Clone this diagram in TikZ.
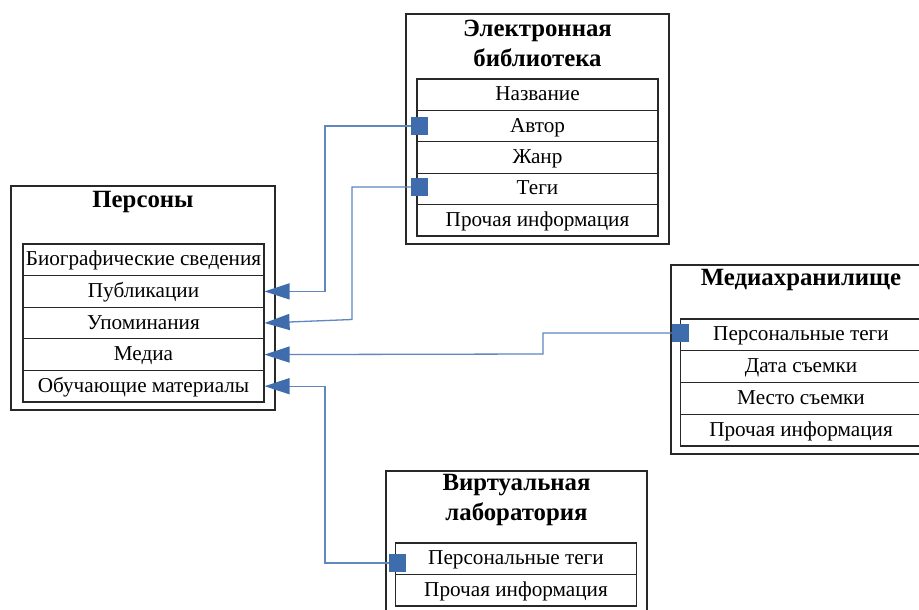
\documentclass[tikz,border=0pt]{standalone}
\usepackage{fontspec}
\setmainfont{Liberation Serif}
\usetikzlibrary{arrows.meta}
\definecolor{lineblue}{RGB}{95,135,192}
\definecolor{darkblue}{RGB}{62,108,172}
\definecolor{boxline}{RGB}{40,40,40}
\tikzset{
  outerbox/.style={draw=boxline, line width=1.3pt, minimum width=#1, inner sep=0pt},
  rowbox/.style={draw=boxline, line width=1.1pt, minimum width=241pt, minimum height=31.6pt, inner sep=0pt, text height=14pt, text depth=2pt, font=\fontsize{21.2}{24}\selectfont},
  titlenode/.style={font=\fontsize{24.8}{30}\selectfont\bfseries, align=center, inner sep=0pt},
  sq/.style={fill=darkblue, minimum size=17pt, inner sep=0pt},
  conn/.style={draw=lineblue, line width=1.3pt, -{Triangle[length=25pt,width=16pt,color=darkblue]}},
}
\begin{document}
\begin{tikzpicture}[x=1pt,y=-1pt]
\useasboundingbox (0,0) rectangle (919,610);
\clip (0,0) rectangle (919,610);
\fill[white] (0,0) rectangle (919,610);

% Персоны
\node[outerbox=264pt, minimum height=224pt] (pbox) at (143,298) {};
\node[titlenode] (ptitle) at (143,202) {Персоны};
\node[rowbox] (bio) at (143.5,259.8) {Биографические сведения};
\node[rowbox] (pub) at (143.5,291.4) {Публикации};
\node[rowbox] (upom) at (143.5,323.0) {Упоминания};
\node[rowbox] (media) at (143.5,354.6) {Медиа};
\node[rowbox] (obuch) at (143.5,386.2) {Обучающие материалы};

% Электронная библиотека
\node[outerbox=263pt, minimum height=230pt] (ebox) at (537.5,129) {};
\node[titlenode] (etitle) at (537.5,43) {Электронная\\библиотека};
\node[rowbox, minimum height=31.4pt] (name) at (537.5,94.7) {Название};
\node[rowbox, minimum height=31.4pt] (avtor) at (537.5,126.1) {Автор};
\node[rowbox, minimum height=31.4pt] (zhanr) at (537.5,157.5) {Жанр};
\node[rowbox, minimum height=31.4pt] (tegi) at (537.5,188.9) {Теги};
\node[rowbox, minimum height=31.4pt] (einfo) at (537.5,220.3) {Прочая информация};

% Медиахранилище
\node[outerbox=260pt, minimum height=189pt] (mbox) at (801,359.5) {};
\node[titlenode] (mtitle) at (801,280) {Медиахранилище};
\node[rowbox, minimum height=31.75pt] (mtags) at (801,334.9) {Персональные теги};
\node[rowbox, minimum height=31.75pt] (mdate) at (801,366.6) {Дата съемки};
\node[rowbox, minimum height=31.75pt] (mplace) at (801,398.4) {Место съемки};
\node[rowbox, minimum height=31.75pt] (minfo) at (801,430.1) {Прочая информация};

% Виртуальная лаборатория
\node[outerbox=261pt, minimum height=149pt] (vbox) at (516.5,545.5) {};
\node[titlenode] (vtitle) at (516.5,500) {Виртуальная\\лаборатория};
\node[rowbox, minimum height=31.5pt] (vtags) at (516,558.75) {Персональные теги};
\node[rowbox, minimum height=31.5pt] (vinfo) at (516,590.25) {Прочая информация};

% connector coordinates
\coordinate (c1) at (325,126);
\coordinate (c2a) at (352,187);
\coordinate (c2b) at (352,319.5);
\coordinate (c3a) at (543,333);
\coordinate (c3b) at (543,354);
\coordinate (c4) at (325,563);

% squares
\node[sq] (sqA) at (419.5,126) {};
\node[sq] (sqT) at (419.5,187) {};
\node[sq] (sqM) at (680.5,333) {};
\node[sq] (sqV) at (397.5,563) {};

% connectors
\draw[conn] (sqA.center) -- (c1) |- (pub.east);
\draw[conn] (sqT.center) -- (c2a) -- (c2b) -- (upom.east);
\draw[conn] (sqM.center) -- (c3a) -- (c3b) -- (media.east);
\draw[conn] (sqV.center) -- (c4) |- (obuch.east);

% squares on top
\fill[darkblue] (sqA.south west) rectangle (sqA.north east);
\fill[darkblue] (sqT.south west) rectangle (sqT.north east);
\fill[darkblue] (sqM.south west) rectangle (sqM.north east);
\fill[darkblue] (sqV.south west) rectangle (sqV.north east);
\end{tikzpicture}
\end{document}
